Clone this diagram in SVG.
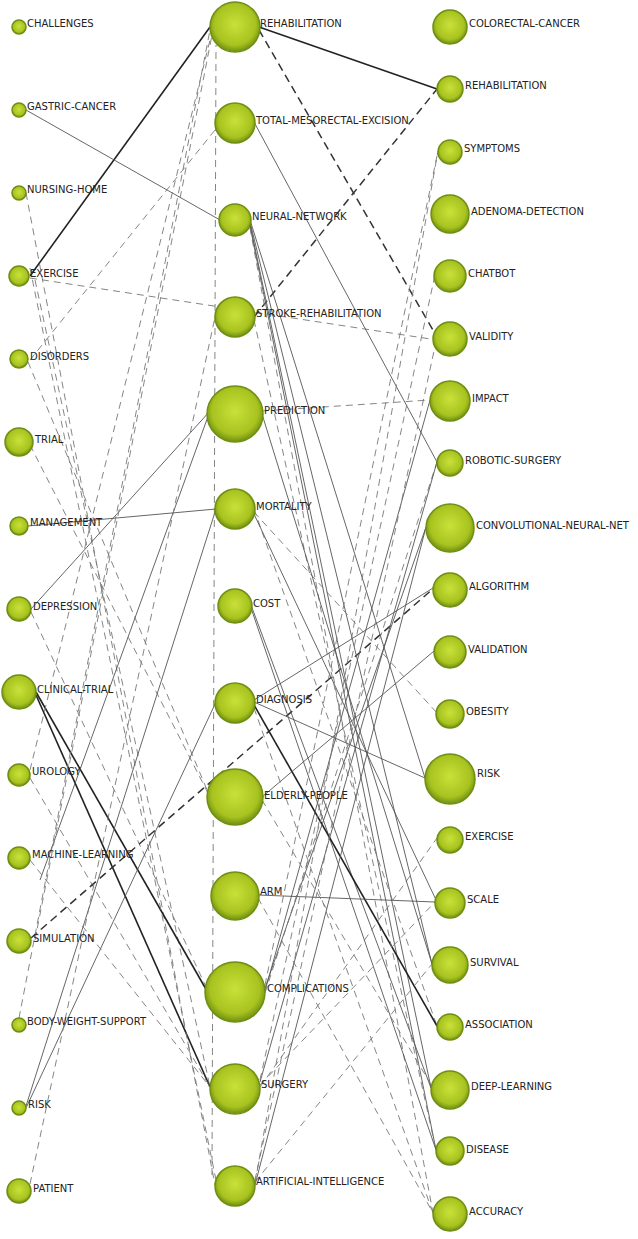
<svg xmlns="http://www.w3.org/2000/svg" width="638" height="1239" viewBox="0 0 638 1239">
<style>
text{font-family:"DejaVu Sans","Liberation Sans",sans-serif;font-size:10px;fill:#222}
.n{fill:url(#g);stroke:#6f8f12;stroke-width:1.5}
.s{stroke:#555;stroke-width:0.9;fill:none}
.S{stroke:#222;stroke-width:1.6;fill:none}
.d{stroke:#777;stroke-width:0.9;stroke-dasharray:7 5;fill:none}
.D{stroke:#333;stroke-width:1.5;stroke-dasharray:8 5;fill:none}
</style>
<defs><radialGradient id="g" cx="0.5" cy="0.45" r="0.55"><stop offset="0" stop-color="#c9e23a"/><stop offset="0.75" stop-color="#a8c21f"/><stop offset="1" stop-color="#6f8f12"/></radialGradient></defs>
<rect width="638" height="1239" fill="#fff"/>
<g id="connectors">
<line class="S" x1="30" y1="276" x2="210" y2="27"/>
<line class="s" x1="26" y1="110" x2="220" y2="220"/>
<line class="d" x1="26" y1="193" x2="215" y2="1185"/>
<line class="d" x1="30" y1="278" x2="437" y2="340"/>
<line class="d" x1="35" y1="280" x2="210" y2="1087"/>
<line class="d" x1="28" y1="362" x2="210" y2="797"/>
<line class="d" x1="30" y1="445" x2="210" y2="797"/>
<line class="s" x1="28" y1="526" x2="216" y2="509"/>
<line class="s" x1="31" y1="609" x2="210" y2="411"/>
<line class="d" x1="31" y1="612" x2="208" y2="991"/>
<line class="S" x1="36" y1="692" x2="207" y2="991"/>
<line class="S" x1="36" y1="695" x2="210" y2="1087"/>
<line class="d" x1="30" y1="778" x2="210" y2="1087"/>
<line class="s" x1="40" y1="880" x2="210" y2="411"/>
<line class="d" x1="30" y1="860" x2="210" y2="1087"/>
<line class="D" x1="31" y1="938" x2="434" y2="588"/>
<line class="s" x1="26" y1="1106" x2="216" y2="509"/>
<line class="s" x1="26" y1="1108" x2="216" y2="702"/>
<line class="d" x1="19" y1="1018" x2="210" y2="30"/>
<line class="d" x1="30" y1="1184" x2="215" y2="317"/>
<line class="d" x1="35" y1="940" x2="212" y2="35"/>
<line class="d" x1="30" y1="770" x2="210" y2="40"/>
<line class="d" x1="30" y1="360" x2="215" y2="130"/>
<line class="d" x1="210" y1="45" x2="150" y2="1239" style="display:none"/>
<line class="d" x1="212" y1="1175" x2="216" y2="45"/>
<line class="d" x1="30" y1="268" x2="216" y2="1180"/>
<line class="S" x1="259" y1="27" x2="437" y2="89"/>
<line class="D" x1="259" y1="30" x2="437" y2="337"/>
<line class="D" x1="254" y1="317" x2="437" y2="89"/>
<line class="s" x1="254" y1="122" x2="437" y2="462"/>
<line class="s" x1="250" y1="220" x2="425" y2="778"/>
<line class="s" x1="250" y1="222" x2="432" y2="964"/>
<line class="s" x1="250" y1="224" x2="431" y2="1088"/>
<line class="s" x1="250" y1="226" x2="436" y2="1150"/>
<line class="d" x1="250" y1="228" x2="433" y2="1213"/>
<line class="d" x1="262" y1="411" x2="430" y2="400"/>
<line class="d" x1="254" y1="509" x2="437" y2="1026"/>
<line class="d" x1="254" y1="512" x2="437" y2="713"/>
<line class="s" x1="254" y1="514" x2="437" y2="902"/>
<line class="s" x1="251" y1="605" x2="431" y2="1088"/>
<line class="s" x1="251" y1="608" x2="436" y2="1150"/>
<line class="s" x1="254" y1="702" x2="425" y2="778"/>
<line class="S" x1="254" y1="705" x2="437" y2="1026"/>
<line class="s" x1="254" y1="700" x2="433" y2="588"/>
<line class="d" x1="254" y1="708" x2="433" y2="1213"/>
<line class="s" x1="262" y1="797" x2="434" y2="651"/>
<line class="s" x1="258" y1="895" x2="435" y2="902"/>
<line class="d" x1="258" y1="898" x2="433" y2="1213"/>
<line class="s" x1="265" y1="991" x2="430" y2="400"/>
<line class="s" x1="265" y1="988" x2="426" y2="527"/>
<line class="d" x1="265" y1="985" x2="438" y2="151"/>
<line class="d" x1="265" y1="993" x2="437" y2="462"/>
<line class="d" x1="260" y1="1087" x2="437" y2="838"/>
<line class="d" x1="260" y1="1085" x2="435" y2="902"/>
<line class="s" x1="260" y1="1082" x2="437" y2="462"/>
<line class="d" x1="260" y1="1080" x2="435" y2="275"/>
<line class="s" x1="255" y1="1185" x2="426" y2="527"/>
<line class="d" x1="255" y1="1182" x2="432" y2="964"/>
<line class="d" x1="255" y1="1180" x2="437" y2="337"/>
<line class="d" x1="255" y1="1183" x2="438" y2="151"/>
<line class="d" x1="262" y1="800" x2="433" y2="1088"/>
<line class="d" x1="254" y1="320" x2="436" y2="1150"/>
<line class="s" x1="262" y1="414" x2="432" y2="964"/>
</g>
<g id="left">
<g id="challenges"><circle class="n" cx="19" cy="27" r="7"/><text x="27" y="27">CHALLENGES</text></g>
<g id="gastric-cancer"><circle class="n" cx="19" cy="110" r="7"/><text x="27" y="110">GASTRIC-CANCER</text></g>
<g id="nursing-home"><circle class="n" cx="19" cy="193" r="7"/><text x="27" y="193">NURSING-HOME</text></g>
<g id="exercise-l"><circle class="n" cx="19" cy="276" r="10"/><text x="30" y="277">EXERCISE</text></g>
<g id="disorders"><circle class="n" cx="19" cy="359" r="9"/><text x="30" y="360">DISORDERS</text></g>
<g id="trial"><circle class="n" cx="19" cy="442" r="14"/><text x="35" y="443">TRIAL</text></g>
<g id="management"><circle class="n" cx="19" cy="526" r="9"/><text x="30" y="526">MANAGEMENT</text></g>
<g id="depression"><circle class="n" cx="19" cy="609" r="12"/><text x="33" y="610">DEPRESSION</text></g>
<g id="clinical-trial"><circle class="n" cx="19" cy="692" r="17"/><text x="37" y="693">CLINICAL-TRIAL</text></g>
<g id="urology"><circle class="n" cx="19" cy="775" r="11"/><text x="32" y="775">UROLOGY</text></g>
<g id="machine-learning"><circle class="n" cx="19" cy="858" r="11"/><text x="32" y="858">MACHINE-LEARNING</text></g>
<g id="simulation"><circle class="n" cx="19" cy="941" r="12"/><text x="33" y="942">SIMULATION</text></g>
<g id="body-weight-support"><circle class="n" cx="19" cy="1025" r="7"/><text x="27" y="1025">BODY-WEIGHT-SUPPORT</text></g>
<g id="risk-l"><circle class="n" cx="19" cy="1108" r="7"/><text x="28" y="1108">RISK</text></g>
<g id="patient"><circle class="n" cx="19" cy="1191" r="12"/><text x="33" y="1192">PATIENT</text></g>
</g>
<g id="middle">
<g id="rehabilitation-m"><circle class="n" cx="235" cy="27" r="25"/><text x="260" y="27">REHABILITATION</text></g>
<g id="tme"><circle class="n" cx="235" cy="123" r="20"/><text x="256" y="124">TOTAL-MESORECTAL-EXCISION</text></g>
<g id="neural-network"><circle class="n" cx="235" cy="220" r="16"/><text x="252" y="220">NEURAL-NETWORK</text></g>
<g id="stroke-rehabilitation"><circle class="n" cx="235" cy="317" r="20"/><text x="256" y="317">STROKE-REHABILITATION</text></g>
<g id="prediction"><circle class="n" cx="235" cy="414" r="28"/><text x="264" y="414">PREDICTION</text></g>
<g id="mortality"><circle class="n" cx="235" cy="509" r="20"/><text x="256" y="510">MORTALITY</text></g>
<g id="cost"><circle class="n" cx="235" cy="606" r="17"/><text x="253" y="607">COST</text></g>
<g id="diagnosis"><circle class="n" cx="235" cy="703" r="20"/><text x="256" y="703">DIAGNOSIS</text></g>
<g id="elderly-people"><circle class="n" cx="235" cy="797" r="28"/><text x="264" y="799">ELDERLY-PEOPLE</text></g>
<g id="arm"><circle class="n" cx="235" cy="896" r="24"/><text x="260" y="895">ARM</text></g>
<g id="complications"><circle class="n" cx="235" cy="992" r="30"/><text x="267" y="992">COMPLICATIONS</text></g>
<g id="surgery"><circle class="n" cx="235" cy="1089" r="25"/><text x="261" y="1088">SURGERY</text></g>
<g id="artificial-intelligence"><circle class="n" cx="235" cy="1186" r="20"/><text x="256" y="1185">ARTIFICIAL-INTELLIGENCE</text></g>
</g>
<g id="right">
<g id="colorectal-cancer"><circle class="n" cx="450" cy="27" r="17"/><text x="469" y="27">COLORECTAL-CANCER</text></g>
<g id="rehabilitation-r"><circle class="n" cx="450" cy="89" r="13"/><text x="465" y="89">REHABILITATION</text></g>
<g id="symptoms"><circle class="n" cx="450" cy="152" r="12"/><text x="464" y="152">SYMPTOMS</text></g>
<g id="adenoma-detection"><circle class="n" cx="450" cy="214" r="19"/><text x="471" y="215">ADENOMA-DETECTION</text></g>
<g id="chatbot"><circle class="n" cx="450" cy="276" r="16"/><text x="468" y="277">CHATBOT</text></g>
<g id="validity"><circle class="n" cx="450" cy="339" r="17"/><text x="469" y="340">VALIDITY</text></g>
<g id="impact"><circle class="n" cx="450" cy="401" r="20"/><text x="472" y="402">IMPACT</text></g>
<g id="robotic-surgery"><circle class="n" cx="450" cy="463" r="13"/><text x="465" y="464">ROBOTIC-SURGERY</text></g>
<g id="cnn"><circle class="n" cx="450" cy="528" r="24"/><text x="476" y="529">CONVOLUTIONAL-NEURAL-NET</text></g>
<g id="algorithm"><circle class="n" cx="450" cy="590" r="17"/><text x="469" y="590">ALGORITHM</text></g>
<g id="validation"><circle class="n" cx="450" cy="652" r="16"/><text x="468" y="653">VALIDATION</text></g>
<g id="obesity"><circle class="n" cx="450" cy="714" r="14"/><text x="466" y="715">OBESITY</text></g>
<g id="risk-r"><circle class="n" cx="450" cy="779" r="25"/><text x="477" y="777">RISK</text></g>
<g id="exercise-r"><circle class="n" cx="450" cy="840" r="13"/><text x="465" y="840">EXERCISE</text></g>
<g id="scale"><circle class="n" cx="450" cy="903" r="15"/><text x="467" y="903">SCALE</text></g>
<g id="survival"><circle class="n" cx="450" cy="965" r="18"/><text x="470" y="966">SURVIVAL</text></g>
<g id="association"><circle class="n" cx="450" cy="1027" r="13"/><text x="465" y="1028">ASSOCIATION</text></g>
<g id="deep-learning"><circle class="n" cx="450" cy="1090" r="19"/><text x="471" y="1090">DEEP-LEARNING</text></g>
<g id="disease"><circle class="n" cx="450" cy="1151" r="14"/><text x="466" y="1153">DISEASE</text></g>
<g id="accuracy"><circle class="n" cx="450" cy="1214" r="17"/><text x="469" y="1215">ACCURACY</text></g>
</g>
</svg>
